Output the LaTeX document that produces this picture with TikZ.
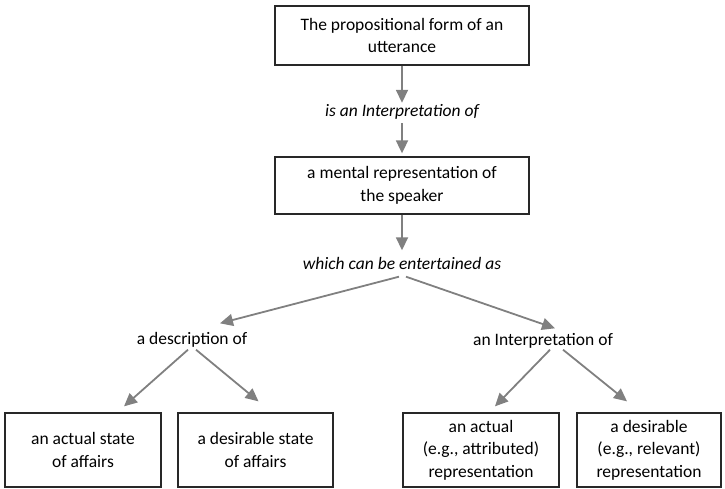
\documentclass[tikz,border=0pt]{standalone}
\usepackage{fontspec}
\setmainfont{Carlito}
\usetikzlibrary{arrows.meta}
\definecolor{arrgray}{RGB}{128,128,128}
\definecolor{boxline}{RGB}{40,40,40}
\tikzset{
  box/.style={draw=boxline, line width=1.3pt, align=center, font=\fontsize{17.5}{22.5}\selectfont, inner sep=0pt},
  lbl/.style={align=center, font=\fontsize{17.5}{22.5}\selectfont, inner sep=0pt, minimum height=15pt},
  arr/.style={draw=arrgray, line width=1.8pt, -{Triangle[length=13pt,width=12pt]}},
}
\begin{document}
\begin{tikzpicture}[x=1pt,y=-1pt]
\useasboundingbox (0,0) rectangle (725,489);
\node[box, minimum width=254pt, minimum height=59pt] (b1) at (402,35.5) {The propositional form of an\\utterance};
\node[lbl, font=\fontsize{17.5}{22.5}\selectfont\itshape] (l1) at (402,111.5) {is an Interpretation of};
\node[box, minimum width=254pt, minimum height=57pt] (b2) at (402,185.5) {a mental representation of\\the speaker};
\node[lbl, font=\fontsize{17.5}{22.5}\selectfont\itshape] (l2) at (402,263) {which can be entertained as};
\node[lbl] (desc) at (192,340) {a description of};
\node[lbl] (interp) at (543,341) {an Interpretation of};
\node[box, minimum width=156pt, minimum height=74pt] (ba) at (83,450) {an actual state\\of affairs};
\node[box, minimum width=155pt, minimum height=74pt] (bb) at (255.5,450) {a desirable state\\of affairs};
\node[box, minimum width=156pt, minimum height=74pt] (bc) at (481,450) {an actual\\(e.g., attributed)\\representation};
\node[box, minimum width=144pt, minimum height=74pt] (bd) at (649,450) {a desirable\\(e.g., relevant)\\representation};

\draw[arr] (b1.south) -- ([yshift=1pt]l1.north);
\draw[arr] ([yshift=-4pt]l1.south) -- ([yshift=3pt]b2.north);
\draw[arr] (b2.south) -- ([yshift=5pt]l2.north);
\draw[arr] ([xshift=-3pt,yshift=-6pt]l2.south) -- ([xshift=28pt,yshift=9pt]desc.north);
\draw[arr] ([xshift=4pt,yshift=-6pt]l2.south) -- ([xshift=12pt,yshift=5pt]interp.north);
\draw[arr] ([xshift=-4pt,yshift=-2pt]desc.south) -- ([xshift=41pt,yshift=6pt]ba.north);
\draw[arr] ([xshift=4pt,yshift=-2pt]desc.south) -- ([xshift=3pt,yshift=11pt]bb.north);
\draw[arr] ([xshift=7pt,yshift=-1pt]interp.south) -- ([xshift=14pt,yshift=6pt]bc.north);
\draw[arr] ([xshift=20pt,yshift=-1pt]interp.south) -- ([xshift=-22pt,yshift=11pt]bd.north);
\end{tikzpicture}
\end{document}
